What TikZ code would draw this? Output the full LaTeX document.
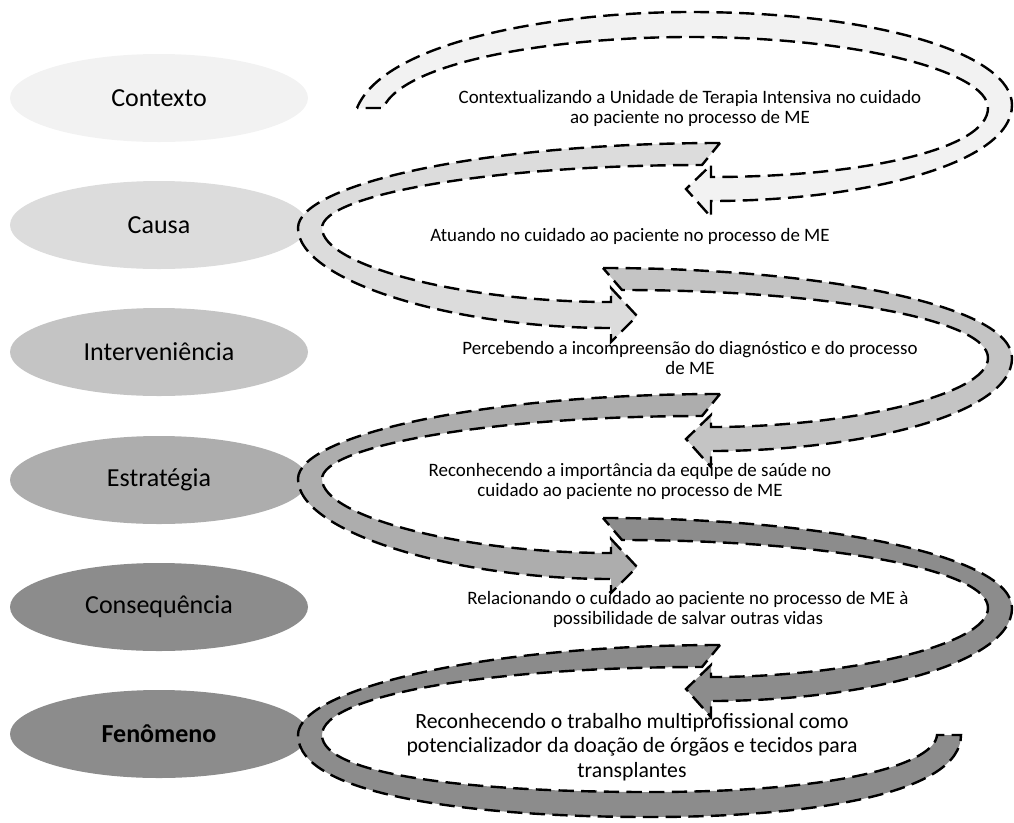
\documentclass[tikz,border=0pt]{standalone}
\usepackage{fontspec}
\setmainfont{Carlito}
\usetikzlibrary{shapes.geometric}
\definecolor{tomA}{HTML}{F2F2F2}
\definecolor{tomB}{HTML}{DCDCDC}
\definecolor{tomC}{HTML}{C4C4C4}
\definecolor{tomD}{HTML}{ADADAD}
\definecolor{tomE}{HTML}{8C8C8C}
\tikzset{
  etapa/.style={ellipse, minimum width=223.5pt, minimum height=66pt, inner sep=0pt,
    font=\fontsize{19.5}{22}\selectfont},
  laco/.style={draw=black, line width=1.8pt, dash pattern=on 11.5pt off 5.5pt},
  texto/.style={align=center, font=\fontsize{14.2}{15}\selectfont}
}
\begin{document}
\begin{tikzpicture}[x=0.75pt,y=-0.75pt]
      \useasboundingbox (0,0) rectangle (1014,822);
      \node[etapa, fill=tomA] (contexto) at (159,98) {Contexto};
      \node[etapa, fill=tomB] (causa) at (159,225) {Causa};
      \node[etapa, fill=tomC] (interv) at (159,352) {Interveniência};
      \node[etapa, fill=tomD] (estrat) at (159,480) {Estratégia};
      \node[etapa, fill=tomE] (conseq) at (159,607) {Consequência};
      \node[etapa, fill=tomE] (fenom) at (159,734) {\textbf{Fenômeno}};
      % lacos
      \filldraw[laco, fill=tomA] (357,108) .. controls (385,40) and (560,12) .. (690,12)
        .. controls (880,12) and (1012,55) .. (1012,105)
        .. controls (1012,165) and (860,201) .. (711,201)
        -- (711,217) -- (686,189) -- (711,165) -- (711,177)
        .. controls (860,177) and (988,150) .. (988,108)
        .. controls (988,72) and (860,37) .. (690,37)
        .. controls (560,37) and (405,60) .. (383,108) -- cycle;
      \filldraw[laco, fill=tomB] (720,143) .. controls (480,143) and (298,185) .. (298,228)
        .. controls (298,280) and (450,328) .. (611,328)
        -- (611,342) -- (637,316) -- (611,288) -- (611,302)
        .. controls (460,302) and (322,265) .. (322,228)
        .. controls (322,195) and (490,165) .. (702,165) -- cycle;
      \filldraw[laco, fill=tomC] (603,268) .. controls (820,268) and (1012,305) .. (1012,358)
        .. controls (1012,415) and (860,451) .. (711,451)
        -- (711,467) -- (686,439) -- (711,415) -- (711,427)
        .. controls (850,427) and (988,395) .. (988,358)
        .. controls (988,318) and (820,290) .. (622,290) -- cycle;
      \filldraw[laco, fill=tomD, shift={(0,251)}] (720,143) .. controls (480,143) and (298,185) .. (298,228)
        .. controls (298,280) and (450,328) .. (611,328)
        -- (611,342) -- (637,316) -- (611,288) -- (611,302)
        .. controls (460,302) and (322,265) .. (322,228)
        .. controls (322,195) and (490,165) .. (702,165) -- cycle;
      \filldraw[laco, fill=tomE, shift={(0,250)}] (603,268) .. controls (820,268) and (1012,305) .. (1012,358)
        .. controls (1012,415) and (860,451) .. (711,451)
        -- (711,467) -- (686,439) -- (711,415) -- (711,427)
        .. controls (850,427) and (988,395) .. (988,358)
        .. controls (988,318) and (820,290) .. (622,290) -- cycle;
      \filldraw[laco, fill=tomE] (720,645) .. controls (480,645) and (298,690) .. (298,735)
        .. controls (298,795) and (470,817) .. (650,817)
        .. controls (820,817) and (961,792) .. (961,735) -- (937,735)
        .. controls (935,762) and (850,792) .. (650,792)
        .. controls (470,792) and (322,775) .. (322,735)
        .. controls (322,695) and (490,667) .. (702,667) -- cycle;
      % textos
      \node[texto] (t1) at (690,108) {Contextualizando a Unidade de Terapia Intensiva no cuidado\\ao paciente no processo de ME};
      \node[texto] (t2) at (630,236) {Atuando no cuidado ao paciente no processo de ME};
      \node[texto] (t3) at (690,358) {Percebendo a incompreensão do diagnóstico e do processo\\de ME};
      \node[texto] (t4) at (630,481) {Reconhecendo a importância da equipe de saúde no\\cuidado ao paciente no processo de ME};
      \node[texto] (t5) at (688,609) {Relacionando o cuidado ao paciente no processo de ME à\\possibilidade de salvar outras vidas};
      \node[texto, font=\fontsize{16.3}{18.4}\selectfont] (t6) at (632,747) {Reconhecendo o trabalho multiprofissional como\\potencializador da doação de órgãos e tecidos para\\transplantes};
    \end{tikzpicture}
\end{document}
